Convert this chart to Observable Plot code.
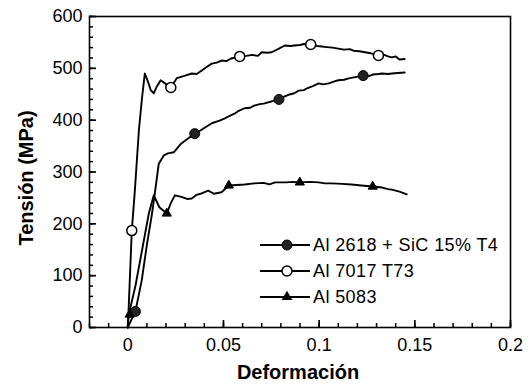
<!DOCTYPE html>
<html>
<head>
<meta charset="utf-8">
<script src="https://cdn.jsdelivr.net/npm/d3@7"></script>
<script src="https://cdn.jsdelivr.net/npm/@observablehq/plot@0.6"></script>
<style>
  html, body { margin: 0; padding: 0; background: #fff; }
  #chart { width: 528px; height: 385px; }
  svg { font-family: "Liberation Sans", Arial, sans-serif; }
</style>
</head>
<body>
<div id="chart"></div>
<script>
// ---- Data ----
const seriesNames = ["Al 2618 + SiC 15% T4", "Al 7017 T73", "Al 5083"];

// Al 2618 + SiC 15% T4 (filled circles)
const a2618X = [0, 0.0015, 0.004, 0.0073, 0.010, 0.0125, 0.014, 0.0162, 0.0188, 0.021, 0.024, 0.028, 0.032, 0.035, 0.038, 0.040, 0.0439, 0.048, 0.051, 0.053, 0.056, 0.058, 0.061, 0.064, 0.066, 0.069, 0.071, 0.075, 0.079, 0.082, 0.084, 0.087, 0.0893, 0.092, 0.094, 0.097, 0.0998, 0.102, 0.105, 0.108, 0.110, 0.113, 0.116, 0.119, 0.123, 0.126, 0.128, 0.131, 0.133, 0.136, 0.138, 0.141, 0.1447];
const a2618Y = [0, 12, 31, 91, 160, 216, 255, 316, 332, 336, 338, 355, 366, 374, 380, 385, 394, 399, 404, 408, 413, 418, 423, 424, 428, 431, 432, 436, 440, 446, 449, 452, 457, 458, 462, 466, 471, 469, 471, 475, 477, 478, 481, 483, 486, 485, 488, 489, 490, 489, 490, 491, 492];

// Al 7017 T73 (open circles)
const a7017X = [0, 0.0005, 0.0021, 0.0037, 0.0058, 0.0073, 0.0089, 0.0105, 0.0120, 0.0136, 0.0152, 0.0172, 0.0198, 0.0225, 0.0256, 0.0300, 0.0334, 0.0360, 0.0387, 0.0410, 0.0439, 0.0465, 0.0490, 0.0515, 0.0540, 0.0585, 0.0620, 0.0650, 0.0680, 0.0700, 0.0730, 0.0752, 0.0790, 0.0820, 0.0850, 0.0870, 0.0900, 0.0920, 0.0956, 0.0990, 0.1014, 0.1040, 0.1070, 0.1100, 0.1130, 0.1160, 0.1180, 0.1210, 0.1240, 0.1270, 0.1310, 0.1340, 0.1360, 0.1380, 0.1400, 0.1420, 0.1447];
const a7017Y = [0, 40, 187, 264, 380, 438, 490, 475, 458, 452, 465, 477, 470, 463, 481, 486, 490, 489, 496, 502, 509, 511, 515, 514, 519, 523, 524, 526, 524, 531, 530, 531, 538, 544, 543, 544, 545, 547, 546, 543, 542, 541, 540, 538, 536, 537, 534, 533, 531, 529, 525, 526, 523, 521, 523, 517, 518];

// Al 5083 (triangles)
const a5083X = [0, 0.0005, 0.004, 0.008, 0.011, 0.0136, 0.0165, 0.0204, 0.0225, 0.0246, 0.028, 0.031, 0.0334, 0.036, 0.038, 0.042, 0.045, 0.049, 0.0528, 0.057, 0.061, 0.066, 0.071, 0.074, 0.077, 0.083, 0.086, 0.0899, 0.095, 0.0998, 0.103, 0.1066, 0.112, 0.117, 0.122, 0.125, 0.128, 0.133, 0.136, 0.138, 0.142, 0.1458];
const a5083Y = [0, 25, 80, 160, 220, 255, 232, 220, 240, 255, 252, 248, 249, 256, 258, 264, 258, 261, 274, 275, 276, 278, 279, 276, 280, 280, 281, 280, 281, 280, 278, 278, 277, 276, 274, 273, 272, 270, 267, 266, 262, 257];

// Marker positions
const m2618X = [0.004, 0.035, 0.079, 0.123];
const m2618Y = [31, 374, 440, 486];
const m7017X = [0.0021, 0.0225, 0.0585, 0.0956, 0.131];
const m7017Y = [187, 463, 523, 546, 525];
const m5083X = [0.001, 0.0204, 0.0528, 0.0899, 0.128];
const m5083Y = [25, 220, 274, 280, 272];

// Axes
const xTicks = [0, 0.05, 0.1, 0.15, 0.2];
const xTickLabels = ["0", "0.05", "0.1", "0.15", "0.2"];
const yTicks = [0, 100, 200, 300, 400, 500, 600];
const xTitle = "Deformación";
const yTitle = "Tensión (MPa)";

// ---- Build tables ----
const zip = (xs, ys) => xs.map((x, i) => ({x, y: ys[i]}));
const s2618 = zip(a2618X, a2618Y);
const s7017 = zip(a7017X, a7017Y);
const s5083 = zip(a5083X, a5083Y);
const d2618 = zip(m2618X, m2618Y);
const d7017 = zip(m7017X, m7017Y);
const d5083 = zip(m5083X, m5083Y);

const xMinor = d3.range(-0.02, 0.2001, 0.01).map(v => +v.toFixed(3));
const yMinor = d3.range(0, 601, 20);

// layout
const W = 528, H = 385, mL = 89, mR = 18, mT = 16, mB = 58;
const frameW = W - mL - mR, frameH = H - mT - mB;
const majorLen = 7, minorLen = 4;

const chart = Plot.plot({
  width: W,
  height: H,
  marginLeft: mL,
  marginRight: mR,
  marginTop: mT,
  marginBottom: mB,
  style: {fontFamily: "'Liberation Sans', Arial, sans-serif", fontSize: "18px", color: "#000", background: "#fff"},
  x: {domain: [-0.02, 0.2]},
  y: {domain: [0, 600]},
  marks: [
    Plot.frame({stroke: "#000", strokeWidth: 1.6}),
    // inward ticks along bottom and left edges of the frame
    Plot.tickX(xMinor, {x: d => d, insetTop: frameH - minorLen, stroke: "#000", strokeWidth: 1.5}),
    Plot.tickX(xTicks, {x: d => d, insetTop: frameH - majorLen, stroke: "#000", strokeWidth: 1.7}),
    Plot.tickY(yMinor, {y: d => d, insetRight: frameW - minorLen, stroke: "#000", strokeWidth: 1.5}),
    Plot.tickY(yTicks, {y: d => d, insetRight: frameW - majorLen, stroke: "#000", strokeWidth: 1.7}),
    // tick labels
    Plot.axisX({ticks: xTicks, tickSize: 0, tickPadding: 11, tickFormat: (d, i) => xTickLabels[i], label: null, fontSize: 18}),
    Plot.axisY({ticks: yTicks, tickSize: 0, tickPadding: 7, label: null, fontSize: 18}),
    // curves
    Plot.line(s7017, {x: "x", y: "y", stroke: "#000", strokeWidth: 1.9}),
    Plot.line(s2618, {x: "x", y: "y", stroke: "#000", strokeWidth: 1.9}),
    Plot.line(s5083, {x: "x", y: "y", stroke: "#000", strokeWidth: 1.9}),
    Plot.dot(d2618, {x: "x", y: "y", r: 5, fill: "#222", stroke: "#000", strokeWidth: 1}),
    Plot.dot(d7017, {x: "x", y: "y", r: 5, fill: "#fff", stroke: "#000", strokeWidth: 1.5}),
    Plot.dot(d5083, {x: "x", y: "y", r: 3.4, symbol: "triangle", fill: "#000", stroke: "#000", strokeWidth: 1}),
    // axis titles
    Plot.text([xTitle], {frameAnchor: "bottom", text: d => d, dy: 51, dx: -2, fontSize: 20, fontWeight: "bold", fill: "#000"}),
    Plot.text([yTitle], {frameAnchor: "left", textAnchor: "middle", text: d => d, rotate: -90, dx: -63, dy: 6, fontSize: 20, fontWeight: "bold", fill: "#000"})
  ]
});

document.getElementById("chart").appendChild(chart);

// ---- Legend, drawn inside the plot frame ----
const svg = d3.select(chart);
const legendX0 = 260, legendX1 = 310, markerX = 287, textX = 313;
const rowY = [245, 271, 297];
const symbols = ["filled", "open", "triangle"];
const g = svg.append("g").attr("class", "legend").attr("text-anchor", "start");
seriesNames.forEach((name, i) => {
  const y = rowY[i];
  g.append("line").attr("x1", legendX0).attr("x2", legendX1).attr("y1", y).attr("y2", y)
    .attr("stroke", "#000").attr("stroke-width", 1.8);
  if (symbols[i] === "filled") {
    g.append("circle").attr("cx", markerX).attr("cy", y).attr("r", 5).attr("fill", "#222").attr("stroke", "#000");
  } else if (symbols[i] === "open") {
    g.append("circle").attr("cx", markerX).attr("cy", y).attr("r", 5).attr("fill", "#fff").attr("stroke", "#000").attr("stroke-width", 1.5);
  } else {
    g.append("path").attr("transform", `translate(${markerX},${y})`)
      .attr("d", d3.symbol(d3.symbolTriangle, 50)()).attr("fill", "#000");
  }
  g.append("text").attr("x", textX).attr("y", y).attr("dy", "0.35em")
    .attr("text-anchor", "start").attr("font-size", 18).attr("letter-spacing", "0.4px")
    .attr("fill", "#000").text(name);
});
</script>
</body>
</html>
